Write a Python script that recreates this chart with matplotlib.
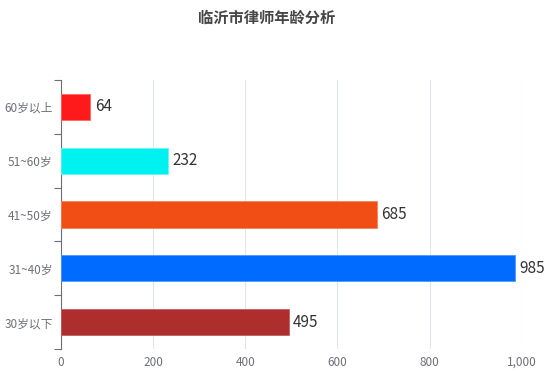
import matplotlib
matplotlib.use("Agg")
import matplotlib.pyplot as plt
from matplotlib.ticker import FuncFormatter, FixedLocator

plt.rcParams['font.family'] = ['Noto Sans CJK SC', 'DejaVu Sans']

categories = ['30岁以下', '31~40岁', '41~50岁', '51~60岁', '60岁以上']
values = [495, 985, 685, 232, 64]
colors = ['#ae2e2e', '#006cff', '#f04e14', '#00f2f0', '#fe1a1a']
edge_colors = ['#c06060', '#4d98ff', '#f58356', '#66f6f5', '#ff6666']
title = '临沂市律师年龄分析'
xticks = [0, 200, 400, 600, 800, 1000]

fig = plt.figure(figsize=(5.54, 3.80), dpi=100)
ax = fig.add_axes([61/554, 1 - 349/380, (521.7 - 61)/554, (349 - 80)/380])

y = list(range(len(categories)))
ax.barh(y, values, height=0.49, color=colors, edgecolor=edge_colors, linewidth=0.6, zorder=3)
for yi, v in zip(y, values):
    ax.text(v + 9, yi, str(v), va='center', ha='left', fontsize=11, color='#333333', zorder=4)

ax.set_xlim(0, 1000)
ax.set_ylim(-0.5, len(categories) - 0.5)
ax.set_xticks(xticks)
ax.xaxis.set_major_formatter(FuncFormatter(lambda v, p: f'{int(v):,}'))
ax.tick_params(axis='x', length=0, labelsize=8.5, labelcolor='#6e7079', pad=5)
ax.grid(axis='x', color='#e0e6f1', linewidth=0.8, zorder=0)

ax.set_yticks(y)
ax.set_yticklabels(categories)
ax.yaxis.set_minor_locator(FixedLocator([i - 0.5 for i in range(len(categories) + 1)]))
ax.tick_params(axis='y', which='major', length=0, labelsize=8.5, labelcolor='#6e7079', pad=6)
ax.tick_params(axis='y', which='minor', length=5, color='#6e7079', width=0.8)

for s in ['top', 'right', 'bottom']:
    ax.spines[s].set_visible(False)
ax.spines['left'].set_color('#6e7079')
ax.spines['left'].set_linewidth(0.8)

fig.text(267/554, 1 - 18/380, title, ha='center', va='center', fontsize=11, fontweight='bold', color='#464646')

fig.savefig('out.png', dpi=100)
